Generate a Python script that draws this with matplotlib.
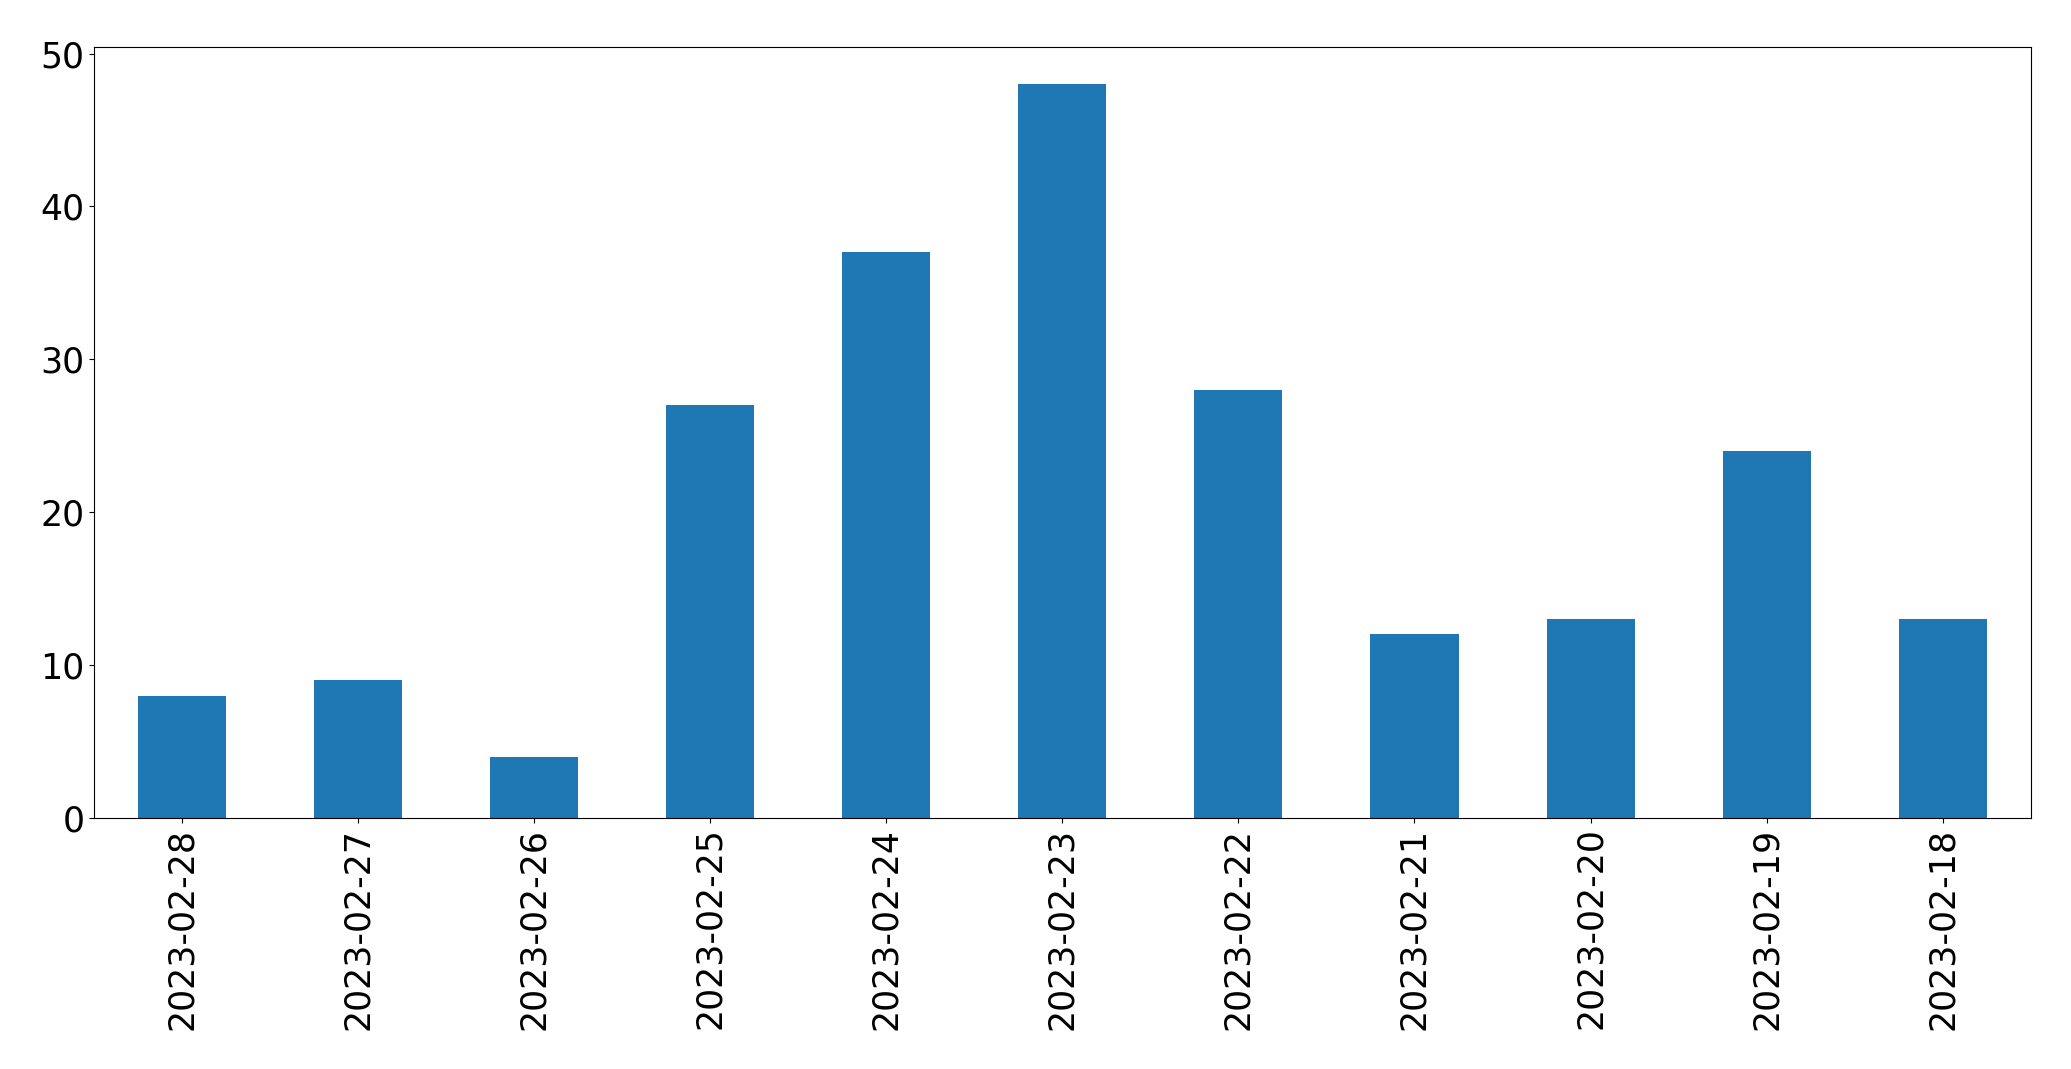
import matplotlib
matplotlib.use("Agg")
import matplotlib.pyplot as plt
import numpy as np

dates = ["2023-02-28", "2023-02-27", "2023-02-26", "2023-02-25", "2023-02-24",
         "2023-02-23", "2023-02-22", "2023-02-21", "2023-02-20", "2023-02-19", "2023-02-18"]
counts = [8, 9, 4, 27, 37, 48, 28, 12, 13, 24, 13]

fig = plt.figure(figsize=(20.71, 10.69), dpi=100)
ax = fig.add_axes([0.0455, 0.2350, 0.9350, 0.7206])
x = np.arange(len(dates))
ax.bar(x, counts, width=0.5, color="#1f77b4")
ax.set_xlim(-0.5, len(dates) - 0.5)
ax.set_ylim(0, max(counts) * 1.05)
ax.set_xticks(x)
ax.set_xticklabels(dates, rotation=90)
ax.set_yticks([0, 10, 20, 30, 40, 50])
ax.tick_params(labelsize=25)
fig.savefig("out.png", dpi=100)
